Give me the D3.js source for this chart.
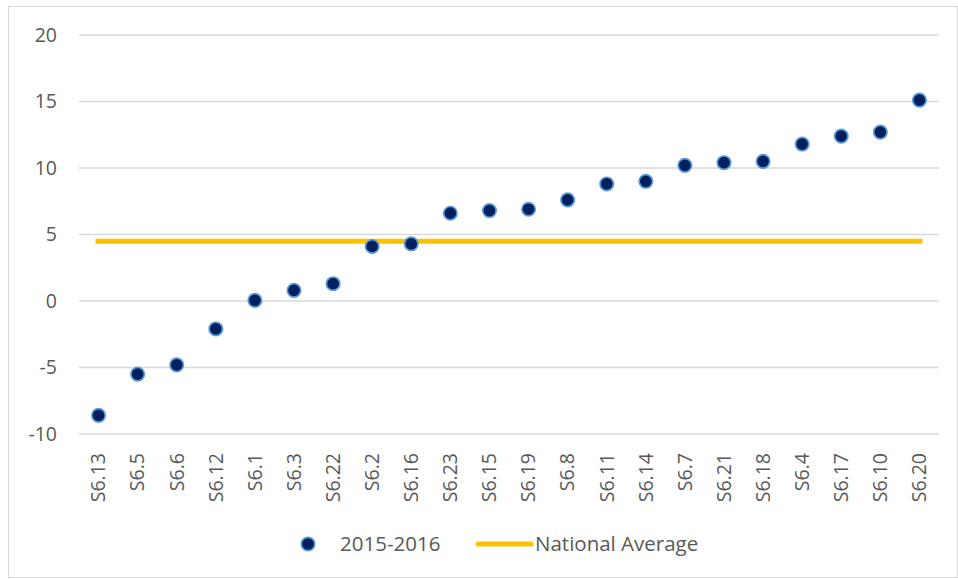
<!DOCTYPE html>
<html>
<head>
<meta charset="utf-8">
<script src="https://cdnjs.cloudflare.com/ajax/libs/d3/7.8.5/d3.min.js"></script>
<style>
  body { margin: 0; background: #fff; }
  text { font-family: "Open Sans", "Liberation Sans", sans-serif; fill: #595959; }
</style>
</head>
<body>
<script>
var categories = ["S6.13","S6.5","S6.6","S6.12","S6.1","S6.3","S6.22","S6.2","S6.16","S6.23","S6.15",
  "S6.19","S6.8","S6.11","S6.14","S6.7","S6.21","S6.18","S6.4","S6.17","S6.10","S6.20"];
var values2015 = [-8.6,-5.5,-4.8,-2.1,0.05,0.8,1.3,4.1,4.3,6.6,6.8,6.9,7.6,8.8,9.0,10.2,10.4,10.5,11.8,12.4,12.7,15.1];
var nationalAverage = 4.5;
var yTicks = [-10,-5,0,5,10,15,20];

var width = 958, height = 579;
var margin = {left: 79, right: 19, top: 35, bottom: 145};

var svg = d3.select("body").append("svg").attr("width", width).attr("height", height);

// chart border
svg.append("rect")
  .attr("x", 8.5).attr("y", 6.5)
  .attr("width", width - 9).attr("height", height - 8)
  .attr("fill", "none").attr("stroke", "#d9d9d9");

var x = d3.scaleBand()
  .domain(categories)
  .range([margin.left, width - margin.right]);

var y = d3.scaleLinear()
  .domain([-10, 20])
  .range([height - margin.bottom, margin.top]);

// gridlines
svg.append("g").selectAll("line")
  .data(yTicks)
  .enter().append("line")
  .attr("x1", margin.left).attr("x2", width - margin.right)
  .attr("y1", function(d){ return y(d); }).attr("y2", function(d){ return y(d); })
  .attr("stroke", "#d9d9d9").attr("stroke-width", 1.3);

// y axis labels (plain hyphen for negatives)
var yAxis = svg.append("g")
  .attr("transform", "translate(" + (margin.left - 22) + ",0)")
  .call(d3.axisLeft(y).tickValues(yTicks).tickSize(0).tickPadding(0)
    .tickFormat(function(d){ return String(d); }));
yAxis.select(".domain").remove();
yAxis.selectAll("text").style("font-size", "19.5px").attr("fill", "#595959");

// x axis labels
var xAxis = svg.append("g")
  .attr("transform", "translate(0," + y(-10) + ")")
  .call(d3.axisBottom(x).tickSize(0).tickPadding(0));
xAxis.select(".domain").remove();
xAxis.selectAll("text")
  .style("font-size", "19.5px").attr("fill", "#595959")
  .attr("text-anchor", "end")
  .attr("dy", "0.35em")
  .attr("transform", "translate(0,19) rotate(-90)")
  .attr("x", 0).attr("y", 0);

// national average line
svg.append("line")
  .attr("x1", x(categories[0]) + x.bandwidth() / 2 - 3)
  .attr("x2", x(categories[categories.length - 1]) + x.bandwidth() / 2 + 3)
  .attr("y1", y(nationalAverage)).attr("y2", y(nationalAverage))
  .attr("stroke", "#FFC000").attr("stroke-width", 5);

// points
svg.append("g").selectAll("circle")
  .data(values2015)
  .enter().append("circle")
  .attr("cx", function(d, i){ return x(categories[i]) + x.bandwidth() / 2; })
  .attr("cy", function(d){ return y(d); })
  .attr("r", 6.7)
  .attr("fill", "#002060")
  .attr("stroke", "#5B9BD5").attr("stroke-width", 1.7);

// legend
var legend = svg.append("g").attr("transform", "translate(0,544)");
legend.append("circle").attr("cx", 308).attr("cy", 0).attr("r", 6.7)
  .attr("fill", "#002060").attr("stroke", "#5B9BD5").attr("stroke-width", 1.7);
legend.append("text").attr("x", 340).attr("y", 0).attr("dy", "0.35em")
  .style("font-size", "20.5px").text("2015-2016");
legend.append("line").attr("x1", 478).attr("x2", 531).attr("y1", 0).attr("y2", 0)
  .attr("stroke", "#FFC000").attr("stroke-width", 5).attr("stroke-linecap", "round");
legend.append("text").attr("x", 535).attr("y", 0).attr("dy", "0.35em")
  .style("font-size", "20.5px").text("National Average");
</script>
</body>
</html>
